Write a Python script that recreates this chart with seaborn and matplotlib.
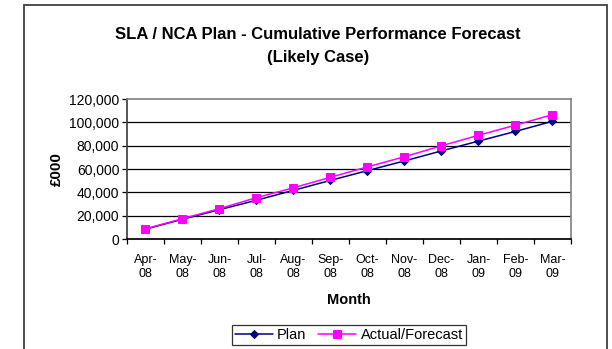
import matplotlib
matplotlib.use("Agg")
import pandas as pd
import seaborn as sns
import matplotlib.pyplot as plt
import matplotlib.ticker as mtick
from matplotlib.patches import Rectangle

# Dados (£000, cumulativo)
meses = ['Apr-\n08', 'May-\n08', 'Jun-\n08', 'Jul-\n08', 'Aug-\n08', 'Sep-\n08',
         'Oct-\n08', 'Nov-\n08', 'Dec-\n08', 'Jan-\n09', 'Feb-\n09', 'Mar-\n09']
plan = [8500, 17000, 25200, 33300, 41800, 50300, 58700, 67000, 75600, 84000, 92300, 101000]
actual = [8800, 17500, 26100, 35500, 44000, 53000, 61900, 70600, 80000, 89000, 97700, 106700]

df = pd.DataFrame({'mes': meses, 'Plan': plan, 'Actual/Forecast': actual})

sns.set_theme(style="white")
plt.rcParams['font.family'] = ['Liberation Sans', 'DejaVu Sans']
plt.rcParams.update({'text.color': 'black', 'axes.labelcolor': 'black',
                     'xtick.color': 'black', 'ytick.color': 'black'})

fig = plt.figure(figsize=(6.12, 3.49), dpi=100)
ax = fig.add_axes([0.2075, 0.315, 0.7255, 0.401])

sns.lineplot(data=df, x='mes', y='Plan', ax=ax, color='#000080', marker='D',
             markersize=4.5, linewidth=1.1, markeredgecolor='#000080', label='Plan')
sns.lineplot(data=df, x='mes', y='Actual/Forecast', ax=ax, color='#FF00FF', marker='s',
             markersize=6, linewidth=1.1, markeredgecolor='#FF00FF', label='Actual/Forecast')

ax.set_xlim(-0.5, len(meses) - 0.5)
ax.set_ylim(0, 120000)
ax.set_yticks(range(0, 120001, 20000))
ax.yaxis.set_major_formatter(mtick.StrMethodFormatter('{x:,.0f}'))

# linhas de grade horizontais pretas
for v in range(20000, 120000, 20000):
    ax.axhline(v, color='black', linewidth=0.9, zorder=0)

# marcas do eixo x entre as categorias (estilo Excel)
ax.set_xticks(range(len(meses)))
ax.set_xticklabels(meses, fontsize=9, linespacing=1.25)
ax.set_xticks([i - 0.5 for i in range(len(meses) + 1)], minor=True)
ax.tick_params(axis='x', which='major', length=0, pad=10.5)
ax.tick_params(axis='x', which='minor', length=3.5, width=0.9, direction='out', bottom=True)
ax.tick_params(axis='y', length=3.5, width=0.9, direction='out', left=True, labelsize=10, pad=2)

for s in ['top', 'right']:
    ax.spines[s].set_color('#808080')
    ax.spines[s].set_linewidth(1.2)
ax.spines['left'].set_color('#404040')
ax.spines['bottom'].set_color('black')
for s in ax.spines.values():
    s.set_visible(True)

ax.set_xlabel('Month', fontsize=10.5, fontweight='bold', labelpad=9.5)
ax.set_ylabel('£000', fontsize=11, fontweight='bold', labelpad=3.7)

fig.text(0.52, 0.868, 'SLA / NCA Plan - Cumulative Performance Forecast\n(Likely Case)',
         ha='center', va='center', fontsize=12, fontweight='bold', linespacing=1.6)

leg = ax.legend(loc='center', bbox_to_anchor=(0.57, 0.041), bbox_transform=fig.transFigure,
                ncol=2, frameon=True, fontsize=10.5, handlelength=2.6, handletextpad=0.3,
                columnspacing=0.8, borderpad=0.2, fancybox=False)
leg.get_frame().set_edgecolor('black')
leg.get_frame().set_linewidth(0.9)

# borda externa da área do gráfico
fig.patches.append(Rectangle((24 / 612, -0.1), (607 - 24) / 612, 1.1 - 5 / 349,
                             transform=fig.transFigure, fill=False, edgecolor='#404040',
                             linewidth=1.3, clip_on=False))

fig.savefig('out.png', dpi=100)
